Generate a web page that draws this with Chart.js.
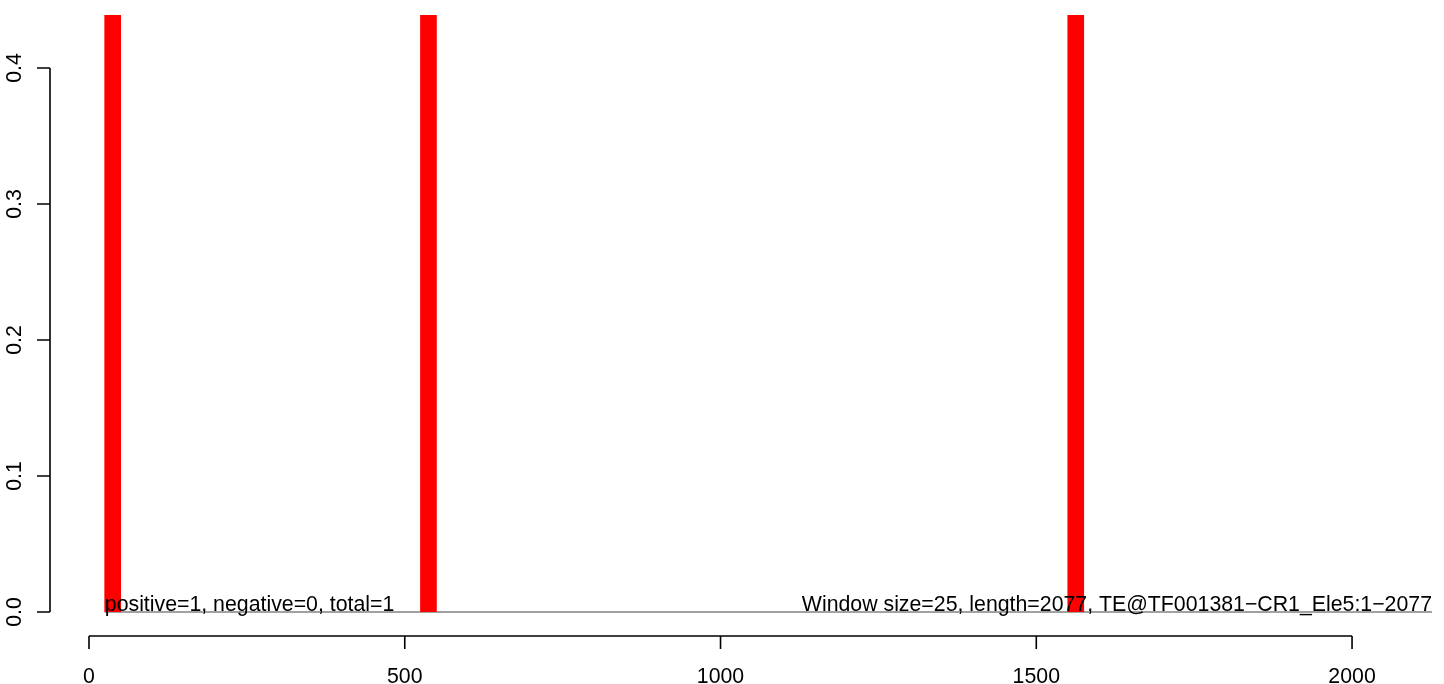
<!DOCTYPE html>
<html>
<head>
<meta charset="utf-8">
<script src="https://cdn.jsdelivr.net/npm/chart.js@4/dist/chart.umd.min.js"></script>
<style>
  body { margin: 0; background: #fff; }
  canvas { display: block; }
</style>
</head>
<body>
<canvas id="chart" width="1444" height="684"></canvas>
<script>
// window starts (bp) where a positive hit was found, window size 25
const windowStarts = [25, 525, 1550];
const windowSize = 25;
const windowValues = [1, 1, 1];
const seqLength = 2077;
const xMax = 2126.6;
const yMax = 0.439;

const xTicks = [0, 500, 1000, 1500, 2000];
const yTicks = [0, 0.1, 0.2, 0.3, 0.4];
const yTickLabels = ['0.0', '0.1', '0.2', '0.3', '0.4'];

const leftNote = 'positive=1, negative=0, total=1';
const rightNote = 'Window size=25, length=2077, TE@TF001381\u2212CR1_Ele5:1\u22122077';

const FONT = '21.3px "Liberation Sans", Arial, sans-serif';

const bars = windowStarts.map((s, i) => ({ x: s + windowSize / 2, y: windowValues[i] }));

// R style axes drawn off the plot region
const rAxes = {
    id: 'rAxes',
    afterDraw(chart) {
        const ctx = chart.ctx;
        const xs = chart.scales.x;
        const ys = chart.scales.y;
        ctx.save();
        ctx.strokeStyle = '#000';
        ctx.fillStyle = '#000';
        ctx.lineWidth = 1.6;
        ctx.font = FONT;

        // x axis
        const ay = 636;
        ctx.beginPath();
        ctx.moveTo(xs.getPixelForValue(xTicks[0]), ay);
        ctx.lineTo(xs.getPixelForValue(xTicks[xTicks.length - 1]), ay);
        xTicks.forEach(t => {
            const px = xs.getPixelForValue(t);
            ctx.moveTo(px, ay);
            ctx.lineTo(px, ay + 13);
        });
        ctx.stroke();
        ctx.textAlign = 'center';
        ctx.textBaseline = 'alphabetic';
        xTicks.forEach(t => ctx.fillText(String(t), xs.getPixelForValue(t), 683));

        // y axis
        const ax = 50;
        ctx.beginPath();
        ctx.moveTo(ax, ys.getPixelForValue(yTicks[0]));
        ctx.lineTo(ax, ys.getPixelForValue(yTicks[yTicks.length - 1]));
        yTicks.forEach(t => {
            const py = ys.getPixelForValue(t);
            ctx.moveTo(ax, py);
            ctx.lineTo(ax - 13, py);
        });
        ctx.stroke();
        yTicks.forEach((t, i) => {
            ctx.save();
            ctx.translate(20.5, ys.getPixelForValue(t));
            ctx.rotate(-Math.PI / 2);
            ctx.textAlign = 'center';
            ctx.fillText(yTickLabels[i], 0, 0);
            ctx.restore();
        });

        // notes on the baseline
        const by = ys.getPixelForValue(0) - 1;
        ctx.textAlign = 'left';
        ctx.fillText(leftNote, xs.getPixelForValue(windowStarts[0]), by);
        ctx.textAlign = 'right';
        ctx.fillText(rightNote, xs.getPixelForValue(xMax), by);
        ctx.restore();
    }
};

new Chart(document.getElementById('chart'), {
    type: 'bar',
    data: {
        datasets: [
            {
                type: 'bar',
                data: bars,
                backgroundColor: '#ff0000',
                borderWidth: 0,
                barThickness: 16,
                order: 0
            },
            {
                type: 'line',
                data: [{ x: windowStarts[0], y: 0 }, { x: xMax, y: 0 }],
                borderColor: '#444',
                borderWidth: 1.2,
                pointRadius: 0,
                clip: false,
                order: 1
            }
        ]
    },
    options: {
        responsive: false,
        devicePixelRatio: 1,
        animation: false,
        layout: { padding: { left: 89, right: 12, top: 15, bottom: 72 } },
        plugins: { legend: { display: false }, tooltip: { enabled: false } },
        scales: {
            x: { type: 'linear', min: 0, max: xMax, offset: false, display: false },
            y: { min: 0, max: yMax, display: false }
        }
    },
    plugins: [rAxes]
});
</script>
</body>
</html>
